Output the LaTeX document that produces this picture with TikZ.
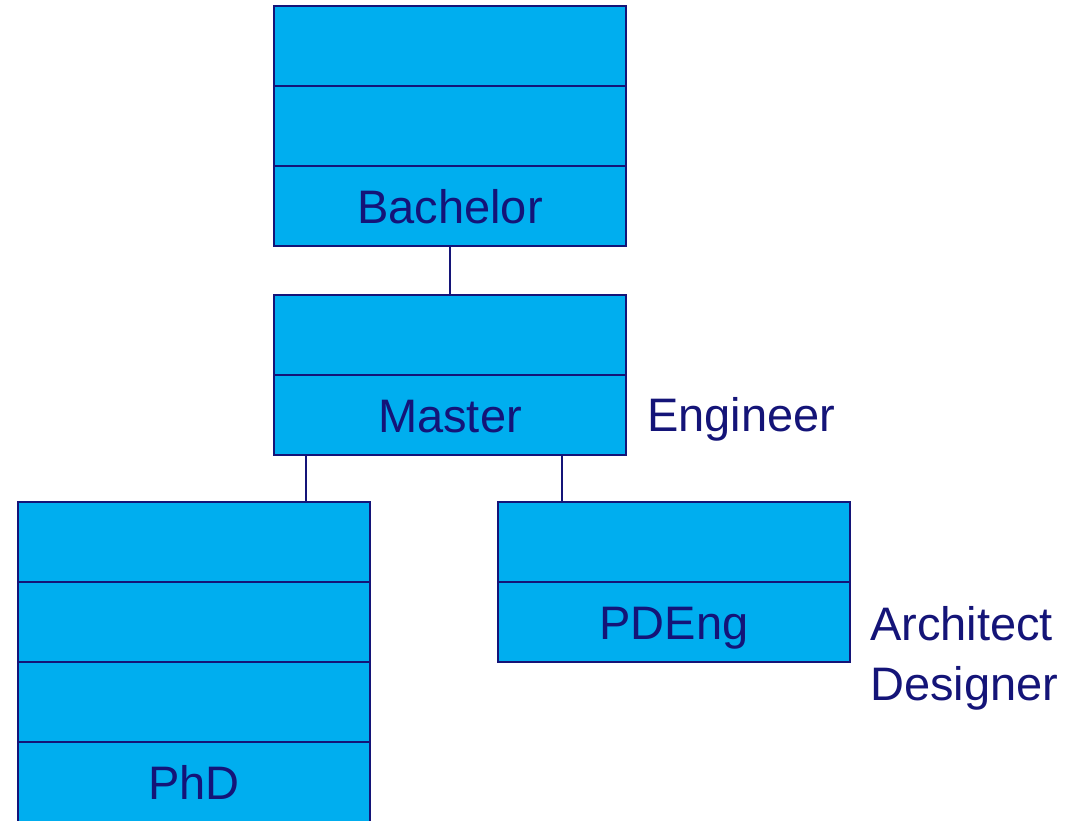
\documentclass[tikz,border=0pt]{standalone}
\usepackage{fontspec}
\setmainfont{Liberation Sans}
\definecolor{cellfill}{RGB}{0,174,239}
\definecolor{navy}{RGB}{20,20,120}
\begin{document}
\begin{tikzpicture}[x=1pt,y=-1pt,
  cell/.style={draw=navy, line width=2.5pt, fill=cellfill, minimum width=352pt, minimum height=80pt,
    anchor=north west, inner sep=0pt, outer sep=0pt, text=navy, font=\fontsize{47pt}{56pt}\selectfont,
    text height=34pt, text depth=0pt},
  lbl/.style={anchor=west, inner sep=0pt, text=navy, font=\fontsize{47pt}{56pt}\selectfont,
    text height=34pt, text depth=0pt},
  link/.style={draw=navy, line width=2.5pt}]
\clip (0,0) rectangle (1068,821);
\fill[white] (0,0) rectangle (1068,821);
% Bachelor
\node[cell] (b1) at (274,6) {};
\node[cell] (b2) at (274,86) {};
\node[cell] (b3) at (274,166) {Bachelor};
% Master
\node[cell] (m1) at (274,295) {};
\node[cell] (m2) at (274,375) {Master};
% PhD
\node[cell] (p1) at (18,502) {};
\node[cell] (p2) at (18,582) {};
\node[cell] (p3) at (18,662) {};
\node[cell] (p4) at (18,742) {PhD};
% PDEng
\node[cell] (e1) at (498,502) {};
\node[cell] (e2) at (498,582) {PDEng};
% labels
\node[lbl] (eng) at (647,414) {Engineer};
\node[lbl] (arch) at (870,623) {Architect};
\node[lbl] (des) at (870,683) {Designer};
% connectors
\draw[link] (b3.south) -- (m1.north);
\draw[link] ([xshift=-144pt]m2.south) -- ([xshift=-144pt]m2.south |- p1.north);
\draw[link] ([xshift=112pt]m2.south) -- ([xshift=112pt]m2.south |- e1.north);
\end{tikzpicture}
\end{document}
